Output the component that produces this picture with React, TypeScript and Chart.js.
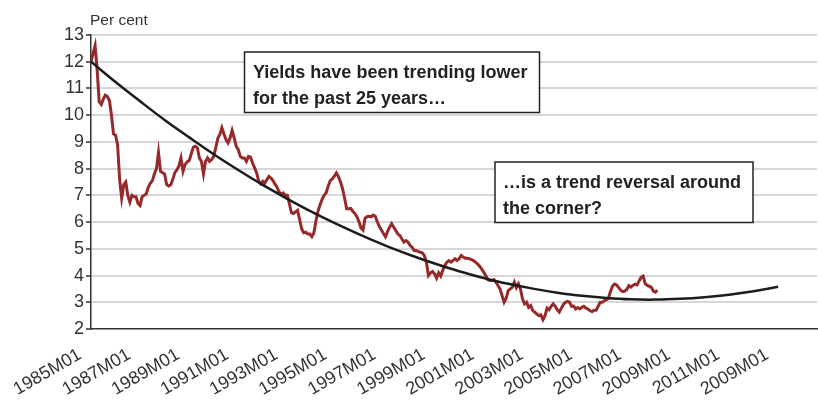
import React, { useEffect, useRef } from "react";
import { Chart, registerables } from "chart.js";

Chart.register(...registerables);

// ---- Data ----
const TICK_LABELS = [
  "1985M01", "1987M01", "1989M01", "1991M01", "1993M01", "1995M01", "1997M01",
  "1999M01", "2001M01", "2003M01", "2005M01", "2007M01", "2009M01", "2011M01", "2009M01",
];
const MONTHS_PER_TICK = 24;
const AXIS_MONTHS = 355;

// Monthly 10-year yield, starting 1985M01
const YIELD = [
  12.0, 12.3, 12.6, 11.7, 10.5, 10.4, 10.6, 10.75, 10.7, 10.55, 10.0, 9.3,
  9.25, 8.9, 7.6, 6.9, 7.4, 7.5, 7.0, 6.75, 7.0, 6.95, 6.95, 6.7,
  6.62, 6.95, 7.0, 7.05, 7.3, 7.45, 7.55, 7.8, 8.0, 8.6, 7.9, 7.85,
  7.8, 7.4, 7.35, 7.4, 7.6, 7.85, 7.95, 8.1, 8.4, 7.9, 8.15, 8.25,
  8.3, 8.55, 8.8, 8.84, 8.78, 8.4, 8.27, 7.8, 8.27, 8.4, 8.27, 8.34,
  8.46, 8.78, 9.13, 9.28, 9.53, 9.3, 9.09, 8.96, 9.15, 9.43, 9.15, 8.84,
  8.71, 8.46, 8.4, 8.4, 8.27, 8.46, 8.43, 8.21, 8.03, 7.84, 7.53, 7.43,
  7.53, 7.46, 7.59, 7.71, 7.65, 7.55, 7.42, 7.3, 7.12, 7.04, 7.09, 7.0,
  7.0, 6.69, 6.35, 6.32, 6.38, 6.44, 6.1, 5.75, 5.6, 5.62, 5.55, 5.55,
  5.45, 5.6, 6.05, 6.4, 6.65, 6.85, 7.0, 7.1, 7.35, 7.55, 7.62, 7.72,
  7.84, 7.7, 7.5, 7.25, 6.9, 6.5, 6.5, 6.51, 6.4, 6.32, 6.2, 6.03,
  5.78, 5.7, 6.14, 6.2, 6.22, 6.2, 6.26, 6.22, 6.01, 5.83, 5.7, 5.57,
  5.45, 5.64, 5.81, 5.94, 5.81, 5.69, 5.56, 5.5, 5.38, 5.25, 5.31, 5.25,
  5.13, 5.06, 4.94, 4.94, 4.9, 4.87, 4.85, 4.75, 4.5, 4.0, 4.1, 4.15,
  4.06, 3.9, 4.1, 3.98, 4.2, 4.38, 4.5, 4.56, 4.5, 4.56, 4.63, 4.56,
  4.63, 4.75, 4.69, 4.65, 4.65, 4.63, 4.6, 4.56, 4.5, 4.44, 4.35, 4.25,
  4.13, 4.0, 3.85, 3.81, 3.81, 3.85, 3.75, 3.63, 3.5, 3.25, 3.0, 3.15,
  3.44, 3.5, 3.56, 3.75, 3.55, 3.69, 3.5, 3.13, 2.94, 3.0, 2.81, 2.88,
  2.69, 2.63, 2.56, 2.5, 2.53, 2.35, 2.5, 2.78, 2.72, 2.85, 2.94, 2.85,
  2.72, 2.63, 2.78, 2.92, 3.0, 3.03, 3.0, 2.85, 2.86, 2.75, 2.8, 2.75,
  2.81, 2.85, 2.78, 2.75, 2.68, 2.65, 2.7, 2.7, 2.85, 3.0, 3.0, 3.06,
  3.1, 3.15, 3.4, 3.6, 3.68, 3.65, 3.55, 3.45, 3.4, 3.42, 3.48, 3.62,
  3.57, 3.63, 3.68, 3.65, 3.8, 3.93, 3.98, 3.7, 3.63, 3.6, 3.56, 3.42,
  3.38, 3.45,
];

// Trend line, one value every 12 months from 1985M01
const TREND_STEP = 12;
const TREND = [
  12.0, 11.24, 10.52, 9.82, 9.17, 8.54, 7.95, 7.39, 6.87, 6.38, 5.93, 5.51,
  5.12, 4.77, 4.45, 4.16, 3.91, 3.69, 3.51, 3.36, 3.24, 3.16, 3.11, 3.1,
  3.13, 3.19, 3.28, 3.41, 3.58,
];

const Y_MIN = 2;
const Y_MAX = 13;
const Y_TITLE = "Per cent";
const NOTE_1 = ["Yields have been trending lower", "for the past 25 years…"];
const NOTE_2 = ["…is a trend reversal around", "the corner?"];

const FONT = "'Liberation Sans', Arial, Helvetica, sans-serif";

export default function App() {
  const ref = useRef<HTMLCanvasElement>(null);

  useEffect(() => {
    if (!ref.current) return;

    const drawNote = (ctx: CanvasRenderingContext2D, x: number, y: number, w: number, h: number, lines: string[], tx: number, b1: number, b2: number) => {
      ctx.save();
      ctx.fillStyle = "#ffffff";
      ctx.fillRect(x, y, w, h);
      ctx.strokeStyle = "#222222";
      ctx.lineWidth = 1.5;
      ctx.strokeRect(x, y, w, h);
      ctx.fillStyle = "#222222";
      ctx.font = `bold 18px ${FONT}`;
      ctx.textAlign = "left";
      ctx.textBaseline = "alphabetic";
      ctx.fillText(lines[0], tx, b1);
      ctx.fillText(lines[1], tx, b2);
      ctx.restore();
    };

    const notes = {
      id: "notes",
      afterDraw(chart: any) {
        const ctx = chart.ctx as CanvasRenderingContext2D;
        ctx.save();
        ctx.fillStyle = "#333333";
        ctx.font = `15.5px ${FONT}`;
        ctx.textAlign = "left";
        ctx.textBaseline = "alphabetic";
        ctx.fillText(Y_TITLE, 90, 25);
        ctx.restore();
        drawNote(ctx, 244.5, 52, 295, 60.5, NOTE_1, 253, 77.5, 103.5);
        drawNote(ctx, 495, 162, 258, 60.5, NOTE_2, 503, 187.5, 213.5);
      },
    };

    const chart = new Chart(ref.current, {
      type: "line",
      data: {
        datasets: [
          {
            label: "Trend",
            data: TREND.map((v, k) => ({ x: k * TREND_STEP, y: v })),
            borderColor: "#1c1c1c",
            borderWidth: 2.5,
            pointRadius: 0,
            tension: 0.4,
          },
          {
            label: "Yield",
            data: YIELD.map((v, i) => ({ x: i, y: v })),
            borderColor: "#962a2a",
            borderWidth: 3,
            pointRadius: 0,
            tension: 0,
          },
        ],
      },
      options: {
        animation: false,
        responsive: true,
        maintainAspectRatio: false,
        layout: { padding: { top: 35, right: 1, left: 0, bottom: 0 } },
        plugins: { legend: { display: false }, tooltip: { enabled: false } },
        scales: {
          x: {
            type: "linear",
            min: 0,
            max: AXIS_MONTHS,
            grid: { display: false, drawTicks: false },
            border: { display: true, color: "#333333", width: 1.5 },
            ticks: {
              stepSize: MONTHS_PER_TICK,
              includeBounds: false,
              autoSkip: false,
              minRotation: 30,
              maxRotation: 30,
              padding: 15,
              labelOffset: -11,
              color: "#333333",
              font: { family: FONT, size: 18 },
              callback: (v: any) => (Number(v) % MONTHS_PER_TICK === 0 ? TICK_LABELS[Number(v) / MONTHS_PER_TICK] ?? "" : ""),
            },
            afterFit: (s: any) => {
              s.height = 71;
              s.paddingLeft = 0;
              s.paddingRight = 0;
            },
          },
          y: {
            min: Y_MIN,
            max: Y_MAX,
            ticks: {
              stepSize: 1,
              padding: 2,
              color: "#333333",
              font: { family: FONT, size: 18 },
            },
            grid: {
              color: (c: any) => (c.tick && c.tick.value === Y_MIN ? "rgba(0,0,0,0)" : "#d6d6dc"),
              lineWidth: 2,
              drawTicks: true,
              tickLength: 5,
              tickColor: "#333333",
              tickWidth: 1.5,
            },
            border: { display: true, color: "#333333", width: 1.5 },
            afterFit: (s: any) => {
              s.width = 91;
              s.paddingTop = 0;
              s.paddingBottom = 0;
            },
          },
        },
      },
      plugins: [notes],
    } as any);

    return () => chart.destroy();
  }, []);

  return (
    <div style={{ position: "fixed", left: 0, top: 0, width: 818, height: 400, background: "#ffffff" }}>
      <canvas ref={ref} />
    </div>
  );
}
